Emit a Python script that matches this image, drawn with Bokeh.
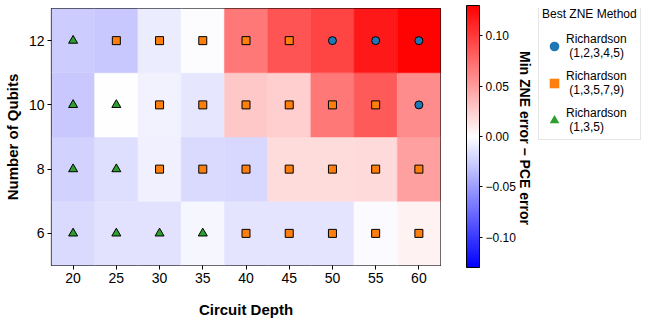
import numpy as np
from bokeh.plotting import figure
from bokeh.layouts import row
from bokeh.models import (Range1d, FixedTicker, LinearColorMapper, ColorBar, Legend,
                          LegendItem, Label, ColumnDataSource, CustomJSTickFormatter)
from bokeh.transform import transform
from bokeh.embed import file_html
from bokeh.resources import INLINE

# ---------------- data ----------------
depths = [20, 25, 30, 35, 40, 45, 50, 55, 60]
qubits = [6, 8, 10, 12]

# Min ZNE error - PCE error, per qubit row, over depths
diff_q6 = [-0.019, -0.015, -0.015, -0.005, -0.014, -0.014, -0.014, -0.003, 0.007]
diff_q8 = [-0.023, -0.017, -0.008, -0.019, -0.020, 0.018, 0.018, 0.019, 0.048]
diff_q10 = [-0.028, 0.000, -0.007, -0.013, 0.028, 0.025, 0.069, 0.084, 0.058]
diff_q12 = [-0.026, -0.028, -0.010, -0.002, 0.069, 0.087, 0.095, 0.117, 0.128]

# best ZNE method per cell: A=(1,2,3,4,5), B=(1,3,5,7,9), C=(1,3,5)
best_q6 = ["C", "C", "C", "C", "B", "B", "B", "B", "B"]
best_q8 = ["C", "C", "B", "B", "B", "B", "B", "B", "B"]
best_q10 = ["C", "C", "B", "B", "B", "B", "B", "B", "A"]
best_q12 = ["C", "B", "B", "B", "B", "B", "A", "A", "A"]

method_keys = ["A", "B", "C"]
method_labels = ["Richardson\n (1,2,3,4,5)", "Richardson\n (1,3,5,7,9)", "Richardson\n (1,3,5)"]
method_markers = ["circle", "square", "triangle"]
method_colors = ["#1f77b4", "#ff7f0e", "#2ca02c"]

colorbar_ticks = [-0.10, -0.05, 0.0, 0.05, 0.10]
vmax = 0.13

# ---------------- build tables ----------------
diffs = {6: diff_q6, 8: diff_q8, 10: diff_q10, 12: diff_q12}
bests = {6: best_q6, 8: best_q8, 10: best_q10, 12: best_q12}
xs, ys, vs, ms = [], [], [], []
for q in qubits:
    for i, d in enumerate(depths):
        xs.append(d)
        ys.append(q)
        vs.append(diffs[q][i])
        ms.append(bests[q][i])
src = ColumnDataSource(dict(x=xs, y=ys, v=vs, m=ms))


def bwr(n=256):
    pal = []
    for i in range(n):
        t = i / (n - 1)
        if t < 0.5:
            r = g = 2 * t
            b = 1.0
        else:
            r = 1.0
            g = b = 2 * (1 - t)
        pal.append("#%02x%02x%02x" % (round(r * 255), round(g * 255), round(b * 255)))
    return pal


mapper = LinearColorMapper(palette=bwr(), low=-vmax, high=vmax)

FONT = "Liberation Sans"

# ---------------- main heatmap ----------------
p = figure(width=441, height=320, x_range=Range1d(17.5, 62.5), y_range=Range1d(5, 13),
           output_backend="svg", toolbar_location=None,
           min_border_left=50, min_border_right=1, min_border_top=8, min_border_bottom=52)

p.rect(x="x", y="y", width=5, height=2, source=src,
       fill_color=transform("v", mapper), line_color=transform("v", mapper), line_width=0.5)

for key, mk, col in zip(method_keys, method_markers, method_colors):
    sel = [i for i, m in enumerate(ms) if m == key]
    s = ColumnDataSource(dict(x=[xs[i] for i in sel], y=[ys[i] for i in sel]))
    size = 9 if mk == "triangle" else 8
    p.scatter(x="x", y="y", source=s, marker=mk, size=size, fill_color=col,
              line_color="black", line_width=1)

p.xgrid.visible = False
p.ygrid.visible = False
p.outline_line_color = "black"
p.outline_line_width = 1.2

p.xaxis.ticker = FixedTicker(ticks=depths)
p.yaxis.ticker = FixedTicker(ticks=qubits)
for ax in (p.xaxis, p.yaxis):
    ax.axis_line_color = None
    ax.minor_tick_line_color = None
    ax.major_tick_in = 0
    ax.major_tick_out = 4
    ax.major_label_standoff = 3
    ax.major_tick_line_color = "black"
    ax.major_label_text_font = FONT
    ax.major_label_text_font_size = "14px"
    ax.major_label_text_color = "black"
    ax.axis_label_text_font = FONT
    ax.axis_label_text_font_size = "15px"
    ax.axis_label_text_font_style = "bold"
    ax.axis_label_text_color = "black"
p.xaxis.axis_label = "Circuit Depth"
p.yaxis.axis_label = "Number of Qubits"
p.xaxis.axis_label_standoff = 15
p.yaxis.axis_label_standoff = 5

# ---------------- side panel: colorbar + legend ----------------
# (its frame is aligned with the heatmap frame: 260 px tall, top at y=8)
side = figure(width=205, height=320, x_range=Range1d(0, 205), y_range=Range1d(0, 260),
              output_backend="svg", toolbar_location=None,
              x_axis_type=None, y_axis_type=None,
              min_border_left=0, min_border_right=0, min_border_top=8, min_border_bottom=52)
side.xgrid.visible = False
side.ygrid.visible = False
side.outline_line_color = None

cb = ColorBar(color_mapper=mapper, location=(25, -2), width=13, height=262,
              padding=0, margin=0,
              ticker=FixedTicker(ticks=colorbar_ticks),
              formatter=CustomJSTickFormatter(code="return (tick < -1e-9 ? '\u2212' : '') + Math.abs(tick).toFixed(2);"),
              major_label_text_font=FONT, major_label_text_font_size="12px",
              major_label_text_color="black", label_standoff=3,
              major_tick_out=3, major_tick_in=0, major_tick_line_color="black",
              minor_tick_line_color=None,
              bar_line_color="black", bar_line_width=1,
              background_fill_alpha=0, border_line_color=None)
side.add_layout(cb)

side.add_layout(Label(x=83, y=129, text="Min ZNE error \u2212 PCE error", angle=-np.pi / 2,
                      text_align="center", text_baseline="middle", text_font=FONT,
                      text_font_style="bold", text_font_size="14px", text_color="black"))

legend_items = []
for lab, mk, col in zip(method_labels, method_markers, method_colors):
    lr = side.scatter(x=[np.nan], y=[np.nan], marker=mk, size=10, fill_color=col, line_color=None)
    legend_items.append(LegendItem(label=lab, renderers=[lr]))

legend = Legend(items=legend_items, location=(97, 125), title="Best ZNE Method",
                title_text_font=FONT, title_text_font_size="12px", title_text_font_style="normal",
                title_text_color="black", title_standoff=9,
                label_text_font=FONT, label_text_font_size="12px", label_text_color="black",
                label_height=32, glyph_height=32, glyph_width=24, spacing=5,
                label_standoff=0, padding=3, margin=0,
                border_line_color="#cccccc", border_line_width=1,
                background_fill_color="white", background_fill_alpha=0.9)
side.add_layout(legend)

layout = row(p, side, spacing=0)
open("out.html", "w").write(file_html(layout, INLINE))
